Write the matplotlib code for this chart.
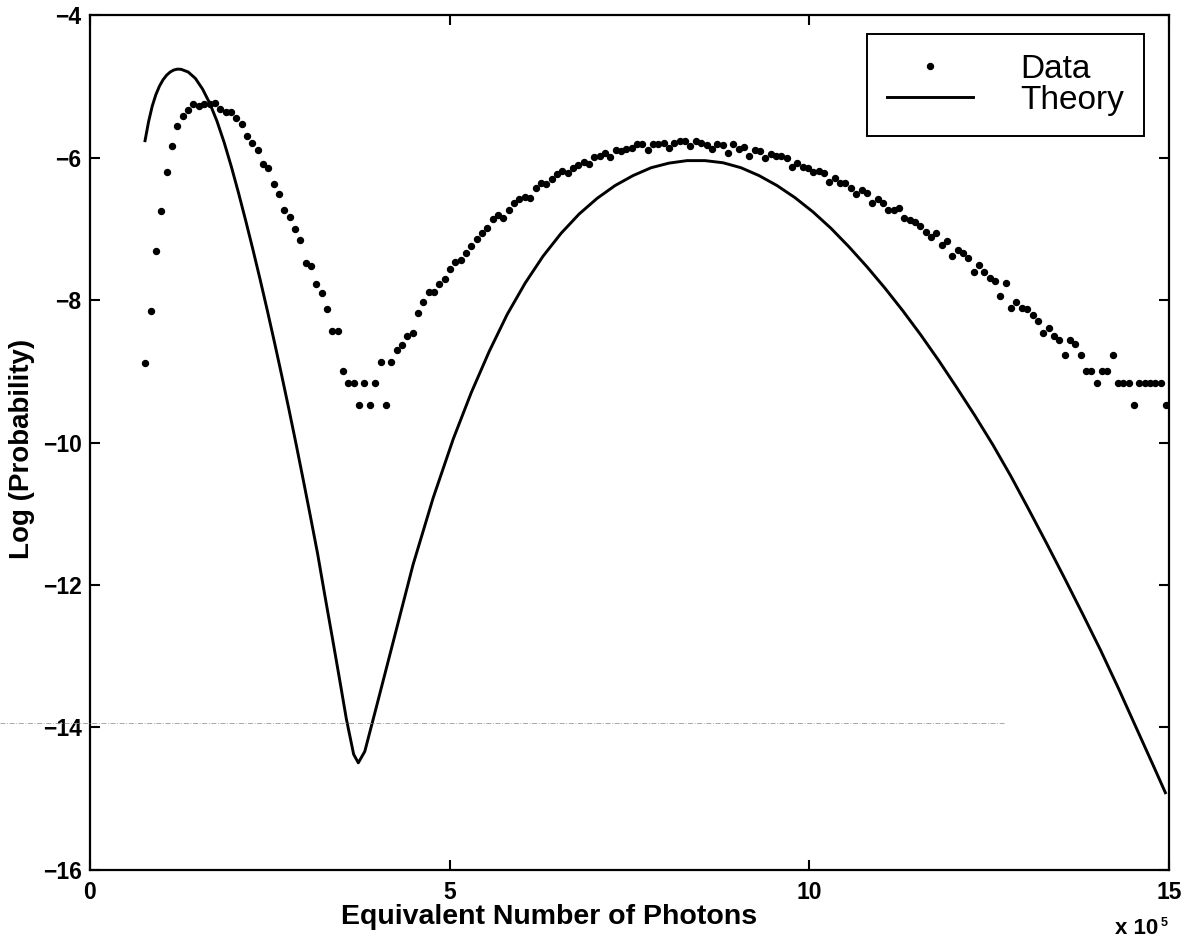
import numpy as np
import matplotlib
matplotlib.use('Agg')
import matplotlib.pyplot as plt
from matplotlib.lines import Line2D

plt.rcParams['font.family'] = ['Liberation Sans', 'DejaVu Sans']

# measured histogram, bin centres in units of 1e5 photons
data_x = np.linspace(0.77, 14.96, 192)
data_y = [
    -8.88, -8.15, -7.31, -6.75, -6.20, -5.84, -5.55, -5.42, -5.33, -5.24,
    -5.27, -5.24, -5.24, -5.23, -5.31, -5.36, -5.36, -5.44, -5.53, -5.70,
    -5.79, -5.89, -6.09, -6.15, -6.37, -6.51, -6.73, -6.83, -7.00, -7.16,
    -7.48, -7.52, -7.77, -7.90, -8.12, -8.43, -8.43, -8.99, -9.17, -9.17,
    -9.47, -9.17, -9.47, -9.17, -8.87, -9.47, -8.87, -8.70, -8.63, -8.51,
    -8.46, -8.18,
    -8.03, -7.89, -7.89, -7.78, -7.70, -7.56, -7.47, -7.44, -7.34, -7.24,
    -7.14, -7.06, -6.99, -6.86, -6.80, -6.84, -6.74, -6.63, -6.58, -6.55,
    -6.57, -6.42, -6.35, -6.37, -6.30, -6.23, -6.19, -6.22, -6.15, -6.10,
    -6.06, -6.09, -5.99, -5.98, -5.93,
    -5.99, -5.89, -5.91, -5.88, -5.86, -5.81, -5.81, -5.89, -5.80, -5.80,
    -5.79, -5.86, -5.79, -5.76, -5.76, -5.84, -5.76, -5.79, -5.82, -5.88,
    -5.80, -5.82, -5.93, -5.80, -5.88, -5.85, -5.97, -5.89, -5.91, -6.01,
    -5.95, -5.98, -5.98, -6.00, -6.13, -6.07,
    -6.13, -6.14, -6.20, -6.19, -6.22, -6.34, -6.29, -6.35, -6.35, -6.43,
    -6.51, -6.45, -6.50, -6.64, -6.58, -6.64, -6.73, -6.74, -6.70, -6.85,
    -6.87, -6.90, -6.96, -7.04, -7.12, -7.06, -7.22, -7.17, -7.38, -7.29,
    -7.34, -7.41, -7.60, -7.51, -7.60, -7.69,
    -7.73, -7.94, -7.76, -8.11, -8.03, -8.11, -8.12, -8.21, -8.29, -8.46,
    -8.39, -8.51, -8.56, -8.77, -8.56, -8.62, -8.77, -8.99, -8.99, -9.17,
    -8.99, -8.99, -8.77, -9.17, -9.17, -9.17, -9.47, -9.17, -9.17, -9.17,
    -9.17, -9.17, -9.47,
]

# theory curve
theory_x = [0.765, 0.815, 0.865, 0.915, 0.965, 1.015, 1.065, 1.115, 1.165, 1.215,
            1.265, 1.365, 1.465, 1.565, 1.665, 1.765, 1.865, 1.965, 2.065, 2.165,
            2.265, 2.365, 2.465, 2.565, 2.665, 2.765, 2.865, 2.965, 3.065, 3.165,
            3.265, 3.365, 3.465, 3.565, 3.665, 3.73, 3.82, 3.98, 4.22, 4.49,
            4.77, 5.05, 5.30, 5.55, 5.80, 6.05, 6.30, 6.55, 6.80, 7.05,
            7.30, 7.55, 7.80, 8.05, 8.30, 8.55, 8.80, 9.05, 9.30, 9.55,
            9.80, 10.05, 10.30, 10.55, 10.80, 11.05, 11.30, 11.55, 11.80, 12.05,
            12.30, 12.55, 12.80, 13.05, 13.30, 13.55, 13.80, 14.05, 14.30, 14.55,
            14.80, 14.95]
theory_y = [-5.76, -5.49, -5.275, -5.115, -4.995, -4.905, -4.84, -4.795, -4.767, -4.755,
            -4.757, -4.795, -4.885, -5.035, -5.235, -5.485, -5.785, -6.125, -6.495, -6.885,
            -7.29, -7.71, -8.145, -8.595, -9.057, -9.532, -10.022, -10.527, -11.042, -11.567,
            -12.15, -12.72, -13.30, -13.89, -14.38, -14.50, -14.34, -13.72, -12.78, -11.72,
            -10.78, -9.95, -9.30, -8.72, -8.20, -7.76, -7.38, -7.06, -6.79, -6.57,
            -6.39, -6.25, -6.14, -6.075, -6.04, -6.04, -6.07, -6.14, -6.25, -6.39,
            -6.56, -6.76, -6.99, -7.25, -7.53, -7.83, -8.15, -8.49, -8.85, -9.23,
            -9.62, -10.03, -10.47, -10.94, -11.42, -11.91, -12.41, -12.92, -13.46, -14.02,
            -14.58, -14.92]

xticks = [0, 5, 10, 15]
yticks = [-16, -14, -12, -10, -8, -6, -4]

W, H = 1195, 948
fig = plt.figure(figsize=(W / 100, H / 100), dpi=100)
ax = fig.add_axes([90 / W, 1 - 869.6 / H, 1079 / W, 854.2 / H])

ax.plot(data_x, data_y, 'o', color='black', markersize=4.3, label='Data')
ax.plot(theory_x, theory_y, '-', color='black', linewidth=2.1, label='Theory')

ax.set_xlim(0, 15)
ax.set_ylim(-16, -4)
ax.set_xticks(xticks)
ax.set_yticks(yticks)
ax.tick_params(direction='in', top=True, right=True, length=7, width=1.5,
               labelsize=16.5, pad=6)
ax.tick_params(axis='x', pad=8)
for lab in ax.get_xticklabels() + ax.get_yticklabels():
    lab.set_fontweight('bold')
for s in ax.spines.values():
    s.set_linewidth(1.6)

ax.set_xlabel('Equivalent Number of Photons', fontsize=20.5, fontweight='bold',
              va='center')
ax.xaxis.set_label_coords((549 - 90) / 1079, (869.6 - 917) / 854.2)
ax.set_ylabel('Log (Probability)', fontsize=20, fontweight='bold', va='center')
ax.yaxis.set_label_coords((22 - 90) / 1079, (869.6 - 449) / 854.2)

# multiplier at bottom right
fig.text(1115 / W, 1 - 934 / H, 'x 10', fontsize=16, fontweight='bold',
         ha='left', va='baseline')
fig.text(1161 / W, 1 - 926 / H, '5', fontsize=9, fontweight='bold',
         ha='left', va='baseline')

leg = ax.legend(loc='upper right', bbox_to_anchor=((1144 - 90) / 1079, (869.6 - 34) / 854.2),
                borderaxespad=0, fontsize=24, frameon=True, fancybox=False,
                framealpha=1, edgecolor='black', handlelength=2.6, handletextpad=1.4,
                labelspacing=0.0, borderpad=0.6, numpoints=1)
leg.get_frame().set_linewidth(1.4)

# faint scan line across the page
fig.add_artist(Line2D([0.0, 0.84], [1 - 723 / H, 1 - 723 / H], transform=fig.transFigure,
                      color='#999999', linewidth=0.6, linestyle=(0, (6, 2, 1, 2))))

fig.savefig('out.png', dpi=100)
